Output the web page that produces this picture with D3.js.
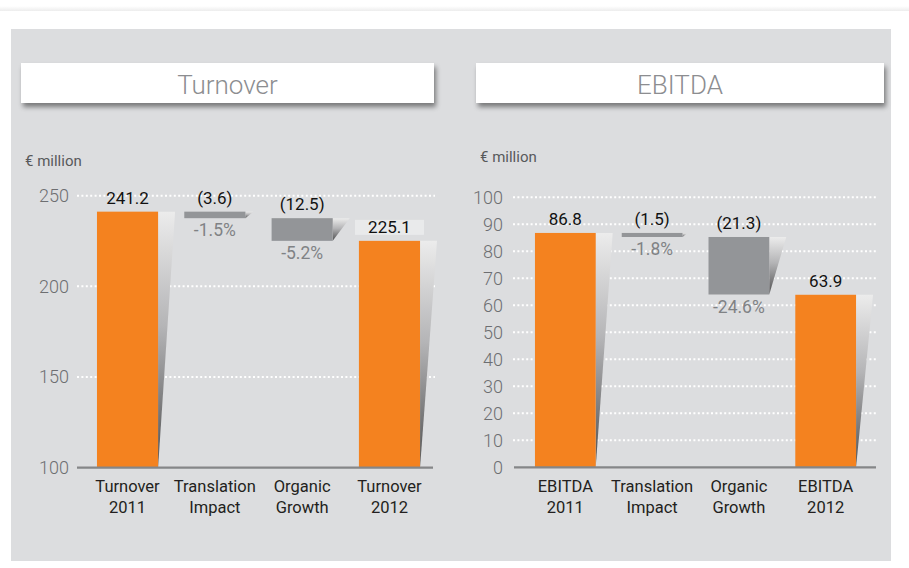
<!DOCTYPE html>
<html>
<head>
<meta charset="utf-8">
<script src="https://cdn.jsdelivr.net/npm/d3@7"></script>
<style>
  body { margin: 0; background: #fff; }
  svg { display: block; }
  text { font-family: Roboto, "Noto Sans", sans-serif; }
</style>
</head>
<body>
<svg id="chart" width="909" height="568"></svg>
<script>
// Turnover bridge (€ million)
const turnoverCategories = ["Turnover 2011", "Translation Impact", "Organic Growth", "Turnover 2012"];
const turnoverValues = [241.2, -3.6, -12.5, 225.1];
const turnoverChanges = ["", "-1.5%", "-5.2%", ""];
const turnoverTicks = [100, 150, 200, 250];

// EBITDA bridge (€ million)
const ebitdaCategories = ["EBITDA 2011", "Translation Impact", "Organic Growth", "EBITDA 2012"];
const ebitdaValues = [86.8, -1.5, -21.3, 63.9];
const ebitdaChanges = ["", "-1.8%", "-24.6%", ""];
const ebitdaTicks = [0, 10, 20, 30, 40, 50, 60, 70, 80, 90, 100];

const ORANGE = "#f4821f";
const DELTA = "#939598";

const svg = d3.select("#chart");
const defs = svg.append("defs");

// vertical shade used for the wedge shadows next to each bar
const shade = defs.append("linearGradient")
  .attr("id", "shade").attr("x1", 0).attr("y1", 0).attr("x2", 0).attr("y2", 1);
shade.append("stop").attr("offset", "0%").attr("stop-color", "#ececec");
shade.append("stop").attr("offset", "45%").attr("stop-color", "#b4b4b6");
shade.append("stop").attr("offset", "100%").attr("stop-color", "#4f4f50");

const topStrip = defs.append("linearGradient")
  .attr("id", "topStrip").attr("x1", 0).attr("y1", 0).attr("x2", 0).attr("y2", 1);
topStrip.append("stop").attr("offset", "0%").attr("stop-color", "#ffffff");
topStrip.append("stop").attr("offset", "100%").attr("stop-color", "#ededed");

const boxShadow = defs.append("filter").attr("id", "boxShadow")
  .attr("x", "-5%").attr("y", "-30%").attr("width", "112%").attr("height", "170%");
boxShadow.append("feDropShadow")
  .attr("dx", 2).attr("dy", 4).attr("stdDeviation", 2.6)
  .attr("flood-color", "#000").attr("flood-opacity", 0.45);

// page background and panel
svg.append("rect").attr("width", 909).attr("height", 568).attr("fill", "#fff");
svg.append("rect").attr("x", 0).attr("y", 6).attr("width", 909).attr("height", 5).attr("fill", "url(#topStrip)");
svg.append("rect").attr("x", 11).attr("y", 29).attr("width", 880).attr("height", 532).attr("fill", "#dcdddf");

function drawPanel(o) {
  const g = svg.append("g");

  // title card
  g.append("rect")
    .attr("x", o.box[0]).attr("y", 63)
    .attr("width", o.box[1] - o.box[0]).attr("height", 40)
    .attr("fill", "#fff").attr("filter", "url(#boxShadow)");
  g.append("text")
    .attr("x", (o.box[0] + o.box[1]) / 2).attr("y", 94)
    .attr("text-anchor", "middle")
    .attr("font-size", 26).attr("font-weight", 300)
    .attr("fill", "#8c8d90")
    .text(o.title);

  // unit label
  g.append("text")
    .attr("x", o.unit[0]).attr("y", o.unit[1])
    .attr("font-size", 15).attr("fill", "#58595b")
    .text("€ million");

  const y = d3.scaleLinear().domain(o.domain).range(o.yRange);
  const x = d3.scaleBand().domain(o.categories).range(o.xRange)
    .paddingInner(0.3).paddingOuter(0.2);

  // dotted gridlines
  g.selectAll(".grid")
    .data(o.ticks.filter(t => t !== o.domain[0]))
    .join("line")
    .attr("x1", o.grid[0]).attr("x2", o.grid[1])
    .attr("y1", d => y(d)).attr("y2", d => y(d))
    .attr("stroke", "#fff").attr("stroke-width", 2)
    .attr("stroke-dasharray", "2 2.4");

  // y tick labels
  const axis = g.append("g")
    .attr("transform", `translate(${o.axisX},0)`)
    .call(d3.axisLeft(y).tickValues(o.ticks).tickSize(0).tickPadding(0).tickFormat(d3.format("d")));
  axis.select(".domain").remove();
  axis.selectAll("text")
    .attr("font-family", "Roboto, 'Noto Sans', sans-serif")
    .attr("font-size", 18).attr("font-weight", 300)
    .attr("fill", "#6d6e71");

  // waterfall geometry
  let running = 0;
  const last = o.values.length - 1;
  const bars = o.values.map((v, i) => {
    if (i === 0 || i === last) {
      running = v;
      return { cat: o.categories[i], lo: o.domain[0], hi: v, v, total: true, change: o.changes[i], i };
    }
    const hi = running;
    running = running + v;
    return { cat: o.categories[i], lo: running, hi, v, total: false, change: o.changes[i], i };
  });

  // wedge shadows
  g.selectAll(".wedge")
    .data(bars)
    .join("polygon")
    .attr("points", d => {
      const xr = x(d.cat) + x.bandwidth();
      const yt = y(d.hi), yb = y(d.lo);
      const w = Math.min(17, (yb - yt) * 1.2);
      return [[xr, yt], [xr + w, yt], [xr, yb]].map(p => p.join(",")).join(" ");
    })
    .attr("fill", "url(#shade)");

  // bars
  g.selectAll(".bar")
    .data(bars)
    .join("rect")
    .attr("x", d => x(d.cat))
    .attr("width", x.bandwidth())
    .attr("y", d => y(d.hi))
    .attr("height", d => y(d.lo) - y(d.hi))
    .attr("fill", d => d.total ? ORANGE : DELTA);

  // axis baseline
  g.append("line")
    .attr("x1", o.base[0]).attr("x2", o.base[1])
    .attr("y1", y(o.domain[0])).attr("y2", y(o.domain[0]))
    .attr("stroke", "#858688").attr("stroke-width", 2.2);

  // highlight behind the closing value
  if (o.highlightLast) {
    const d = bars[last];
    const cx = x(d.cat) + x.bandwidth() / 2;
    g.append("rect")
      .attr("x", cx - 34.5).attr("y", y(d.hi) - 8 - 13)
      .attr("width", 69).attr("height", 15)
      .attr("fill", "#e9eaeb");
  }

  // value labels
  g.selectAll(".val")
    .data(bars)
    .join("text")
    .attr("x", d => x(d.cat) + x.bandwidth() / 2)
    .attr("y", d => y(d.hi) - 8)
    .attr("text-anchor", "middle")
    .attr("font-size", 17).attr("fill", "#111")
    .text(d => d.total ? d.v.toFixed(1) : `(${Math.abs(d.v).toFixed(1)})`);

  // percentage change labels
  g.selectAll(".pct")
    .data(bars.filter(d => d.change))
    .join("text")
    .attr("x", d => x(d.cat) + x.bandwidth() / 2)
    .attr("y", d => y(d.lo) + 18)
    .attr("text-anchor", "middle")
    .attr("font-size", 17.5).attr("fill", "#808285")
    .text(d => d.change);

  // category labels (two lines)
  const cats = g.selectAll(".cat")
    .data(o.categories)
    .join("text")
    .attr("x", d => x(d) + x.bandwidth() / 2)
    .attr("y", 492)
    .attr("text-anchor", "middle")
    .attr("font-size", 16.5).attr("fill", "#231f20");
  cats.each(function (d) {
    const parts = d.split(" ");
    const t = d3.select(this);
    parts.forEach((p, k) => {
      t.append("tspan")
        .attr("x", x(d) + x.bandwidth() / 2)
        .attr("dy", k === 0 ? 0 : 21)
        .text(p);
    });
  });
}

drawPanel({
  title: "Turnover",
  box: [21, 434],
  unit: [25, 166],
  categories: turnoverCategories,
  values: turnoverValues,
  changes: turnoverChanges,
  ticks: turnoverTicks,
  domain: [100, 250],
  yRange: [467.7, 195.7],
  xRange: [79.5, 437.5],
  grid: [77, 435],
  base: [77, 433],
  axisX: 69,
  highlightLast: true
});

drawPanel({
  title: "EBITDA",
  box: [476, 884],
  unit: [480, 162],
  categories: ebitdaCategories,
  values: ebitdaValues,
  changes: ebitdaChanges,
  ticks: ebitdaTicks,
  domain: [0, 100],
  yRange: [467.3, 197.3],
  xRange: [517.6, 873.4],
  grid: [513, 877],
  base: [514, 876],
  axisX: 503,
  highlightLast: false
});
</script>
</body>
</html>
